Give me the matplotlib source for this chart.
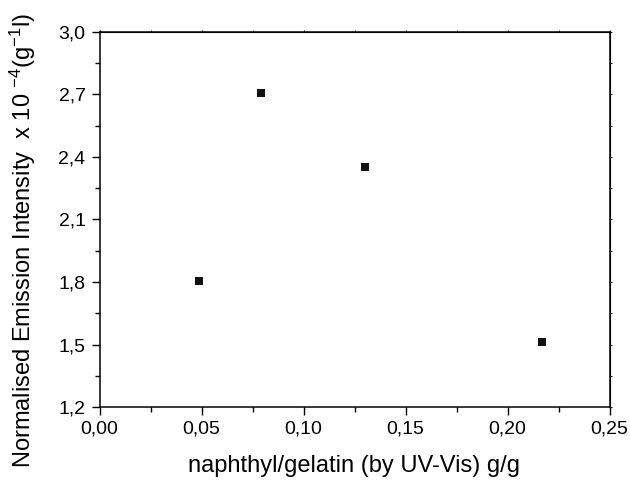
import numpy as np
import matplotlib.pyplot as plt
from matplotlib.ticker import MultipleLocator, FuncFormatter

plt.rcParams['font.family'] = ['Liberation Sans', 'DejaVu Sans']
plt.rcParams['mathtext.fontset'] = 'custom'
plt.rcParams['mathtext.rm'] = 'Liberation Sans'
plt.rcParams['mathtext.it'] = 'Liberation Sans'

# data
ratio = [0.049, 0.079, 0.130, 0.217]        # naphthyl/gelatin g/g
intensity = [1.805, 2.706, 2.353, 1.512]    # x 10^-4 (g^-1 l)

xticks = [0.00, 0.05, 0.10, 0.15, 0.20, 0.25]
yticks = [1.2, 1.5, 1.8, 2.1, 2.4, 2.7, 3.0]

fig = plt.figure(figsize=(6.3, 4.83), dpi=100)
ax = fig.add_axes([99.5 / 630, 1 - 407 / 483, 510 / 630, 375 / 483])

ax.plot(ratio, intensity, 's', color='#111111', markersize=5.8, markeredgewidth=0)

ax.set_xlim(0, 0.25)
ax.set_ylim(1.2, 3.0)
ax.set_xticks(xticks)
ax.set_yticks(yticks)
ax.xaxis.set_minor_locator(MultipleLocator(0.025))
ax.yaxis.set_minor_locator(MultipleLocator(0.15))
ax.xaxis.set_major_formatter(FuncFormatter(lambda v, p: f"{v:.2f}".replace('.', ',')))
ax.yaxis.set_major_formatter(FuncFormatter(lambda v, p: f"{v:.1f}".replace('.', ',')))

ax.tick_params(which='major', direction='out', length=6, width=1, labelsize=14, pad=4)
ax.tick_params(which='minor', direction='out', length=3.5, width=1)
for s in ax.spines.values():
    s.set_linewidth(1.1)

# tiny ticks on top / right like the original
ax2 = ax.secondary_xaxis('top')
ax2.set_xticks(xticks)
ax2.xaxis.set_minor_locator(MultipleLocator(0.025))
ax2.tick_params(which='both', direction='out', length=1.5)
ax2.set_xticklabels([])
ax3 = ax.secondary_yaxis('right')
ax3.set_yticks(yticks)
ax3.yaxis.set_minor_locator(MultipleLocator(0.15))
ax3.tick_params(which='both', direction='out', length=1.5)
ax3.set_yticklabels([])

fig.text(354.5 / 630, 1 - 466 / 483, "naphthyl/gelatin (by UV-Vis) g/g",
         fontsize=17, ha='center', va='center')
fig.text(23 / 630, 1 - 241 / 483,
         r"Normalised Emission Intensity  x 10 $^{-4}$(g$^{-1}$l)",
         fontsize=17, rotation=90, ha='center', va='center')

fig.savefig("out.png", dpi=100)
